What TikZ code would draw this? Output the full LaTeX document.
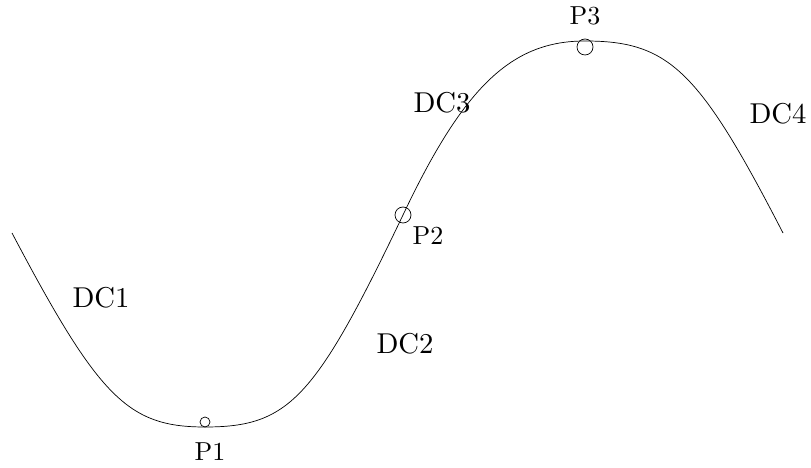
\documentclass[tikz,border=0pt]{standalone}
\usepackage{graphicx}
\usepackage{tikz}
\usetikzlibrary{positioning,calc}

\newcommand{\ptname}[1]{\scalebox{2.6}{#1}}
\newcommand{\dcname}[1]{\scalebox{2.87}{#1}}

\begin{document}
\begin{tikzpicture}[x=1pt,y=1pt,
    curveline/.style={line width=0.7pt},
    ptcircle/.style={circle,draw,line width=0.7pt,inner sep=0pt},
    ptlabel/.style={inner sep=0pt},
    dclabel/.style={inner sep=0pt}]
    \useasboundingbox (0,0) rectangle (811,468);
    % joints of the curve
    \coordinate (s) at (12,235);
    \coordinate (q1) at (205,41);
    \coordinate (q2) at (403,253);
    \coordinate (q3) at (585,427);
    \coordinate (e) at (783,235);
    % the curve
    \draw[curveline] (s) .. controls (99,70) and (128,41) .. (q1)
        .. controls (289,41) and (315,69) .. (q2)
        .. controls (464,382) and (512,427) .. (q3)
        .. controls (669,427) and (699,398) .. (e);
    % points
    \node[ptcircle,minimum size=10pt] (c1) at (205,46) {};
    \node[ptcircle,minimum size=16pt] (c2) at (q2) {};
    \node[ptcircle,minimum size=16pt] (c3) at (585,421) {};
    \node[ptlabel] (p1) at (210,16) {\ptname{P1}};
    \node[ptlabel] (p2) at (428,232) {\ptname{P2}};
    \node[ptlabel] (p3) at (585,452) {\ptname{P3}};
    % segments
    \node[dclabel] (dc1) at (101,170) {\dcname{DC1}};
    \node[dclabel] (dc2) at (405,124) {\dcname{DC2}};
    \node[dclabel] (dc3) at (442,365) {\dcname{DC3}};
    \node[dclabel] (dc4) at (778,354) {\dcname{DC4}};
\end{tikzpicture}
\end{document}
